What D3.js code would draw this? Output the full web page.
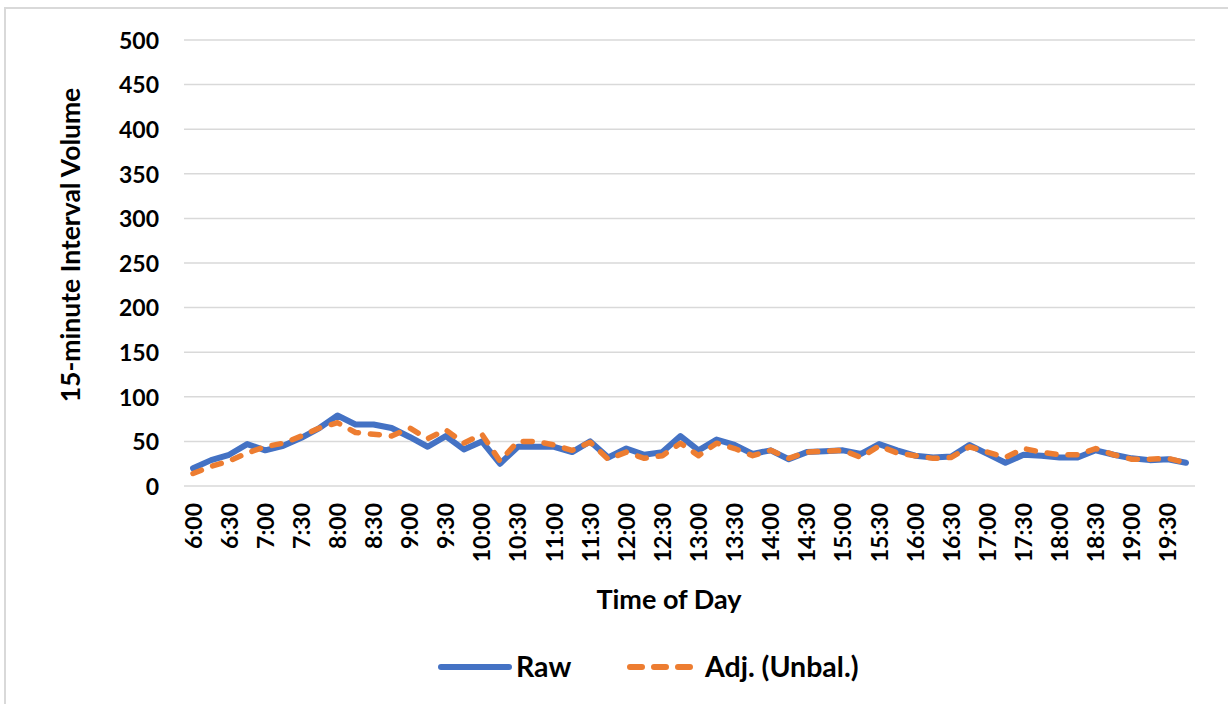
<!DOCTYPE html>
<html>
<head>
<meta charset="utf-8">
<script src="https://cdn.jsdelivr.net/npm/d3@7"></script>
<style>
  html, body { margin: 0; padding: 0; background: #fff; }
  svg { display: block; }
  text { font-family: Lato, "Open Sans", sans-serif; font-weight: bold; fill: #000; }
</style>
</head>
<body>
<svg id="chart" width="1228" height="704"></svg>
<script>
const times = ["6:00","6:15","6:30","6:45","7:00","7:15","7:30","7:45","8:00","8:15","8:30","8:45",
  "9:00","9:15","9:30","9:45","10:00","10:15","10:30","10:45","11:00","11:15","11:30","11:45",
  "12:00","12:15","12:30","12:45","13:00","13:15","13:30","13:45","14:00","14:15","14:30","14:45",
  "15:00","15:15","15:30","15:45","16:00","16:15","16:30","16:45","17:00","17:15","17:30","17:45",
  "18:00","18:15","18:30","18:45","19:00","19:15","19:30","19:45"];
const raw = [20,29,35,47,40,45,54,65,79,69,69,65,
  55,44,56,41,50,25,44,44,44,38,50,32,
  42,35,38,56,40,52,46,36,40,30,38,39,
  40,36,47,40,34,32,33,46,36,26,35,34,
  32,32,40,35,31,29,30,26];
const adj = [14,22,28,37,44,48,56,65,71,60,58,56,
  65,53,63,48,58,28,50,50,46,40,49,30,
  38,31,34,48,34,48,42,34,40,31,38,39,
  40,32,45,37,34,31,32,44,38,32,42,38,
  35,35,42,35,30,30,31,26];
const yTicks = [0,50,100,150,200,250,300,350,400,450,500];
const seriesNames = ["Raw", "Adj. (Unbal.)"];
const seriesColors = ["#4472C4", "#ED7D31"];
const yTitle = "15-minute Interval Volume";
const xTitle = "Time of Day";

const svg = d3.select("#chart");

// outer chart border
svg.append("rect")
  .attr("x", 5).attr("y", 8).attr("width", 1240).attr("height", 720)
  .attr("fill", "none").attr("stroke", "#d9d9d9").attr("stroke-width", 2);

const pL = 184, pR = 1195, pT = 40, pB = 486;
const x = d3.scaleBand().domain(times).range([pL, pR]);
const y = d3.scaleLinear().domain([0, 500]).range([pB, pT]);

// gridlines
svg.append("g").selectAll("line").data(yTicks).join("line")
  .attr("x1", pL).attr("x2", pR)
  .attr("y1", d => y(d)).attr("y2", d => y(d))
  .attr("stroke", "#d9d9d9").attr("stroke-width", 1.5);

// y tick labels
const yAxis = d3.axisLeft(y).tickValues(yTicks).tickSize(0).tickPadding(0);
const gy = svg.append("g").attr("transform", `translate(159,0)`).call(yAxis);
gy.select(".domain").remove();
gy.selectAll("text").attr("font-size", 23).attr("font-family", "Lato, sans-serif")
  .attr("font-weight", "bold").attr("fill", "#000").attr("dy", "0.36em").attr("x", 0);

// x tick labels (every 30 min)
const xAxis = d3.axisBottom(x).tickValues(times.filter((t, i) => i % 2 === 0)).tickSize(0);
const gx = svg.append("g").attr("transform", `translate(0,${pB})`).call(xAxis);
gx.select(".domain").remove();
gx.selectAll("text")
  .attr("font-size", 23).attr("font-family", "Lato, sans-serif").attr("font-weight", "bold").attr("fill", "#000")
  .attr("text-anchor", "end").attr("dy", null).attr("y", 0)
  .attr("transform", "translate(8.5,17) rotate(-90)");

// lines
const line = d3.line().x((d, i) => x(times[i]) + x.bandwidth() / 2).y(d => y(d));
svg.append("path").datum(raw).attr("d", line)
  .attr("fill", "none").attr("stroke", seriesColors[0]).attr("stroke-width", 6)
  .attr("stroke-linejoin", "round").attr("stroke-linecap", "round");
svg.append("path").datum(adj).attr("d", line)
  .attr("fill", "none").attr("stroke", seriesColors[1]).attr("stroke-width", 5.5)
  .attr("stroke-dasharray", "9,12").attr("stroke-linejoin", "round").attr("stroke-linecap", "round");

// axis titles
svg.append("text").attr("transform", "translate(80,245) rotate(-90)")
  .attr("text-anchor", "middle").attr("font-size", 26.5).text(yTitle);
svg.append("text").attr("x", 669).attr("y", 609)
  .attr("text-anchor", "middle").attr("font-size", 27).text(xTitle);

// legend
const lg = svg.append("g");
lg.append("line").attr("x1", 441).attr("x2", 509).attr("y1", 667).attr("y2", 667)
  .attr("stroke", seriesColors[0]).attr("stroke-width", 6).attr("stroke-linecap", "round");
lg.append("text").attr("x", 516).attr("y", 677).attr("font-size", 28.5).text(seriesNames[0]);
lg.append("line").attr("x1", 630).attr("x2", 694).attr("y1", 667).attr("y2", 667)
  .attr("stroke", seriesColors[1]).attr("stroke-width", 6).attr("stroke-linecap", "round")
  .attr("stroke-dasharray", "12,12");
lg.append("text").attr("x", 705).attr("y", 677).attr("font-size", 28.5).text(seriesNames[1]);
</script>
</body>
</html>
